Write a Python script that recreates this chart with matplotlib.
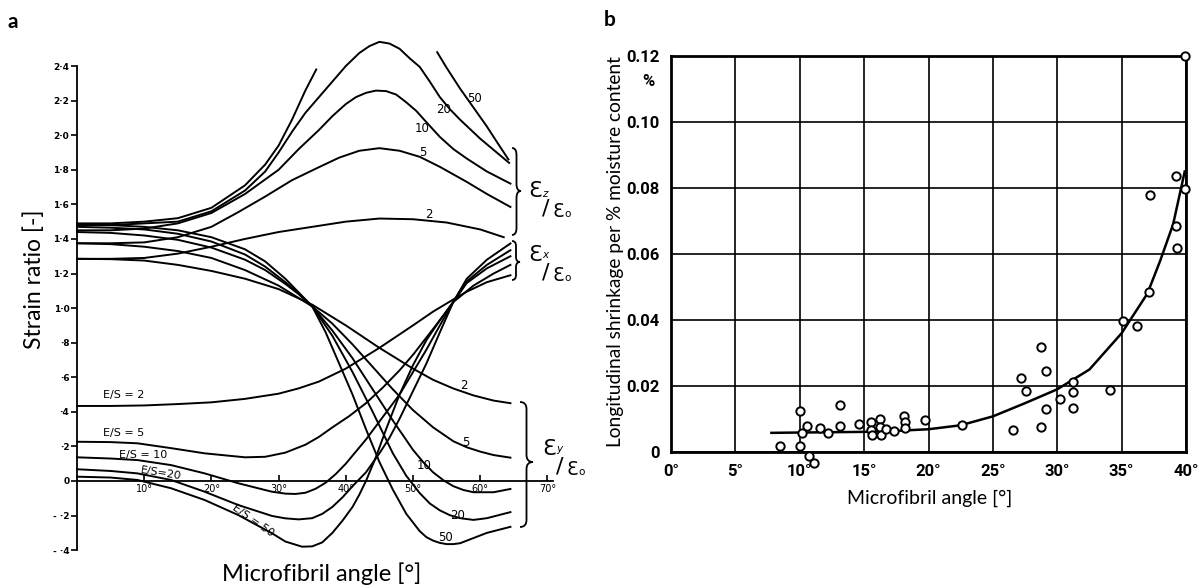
import matplotlib
matplotlib.use('Agg')
import matplotlib.pyplot as plt
from matplotlib.path import Path
from matplotlib.patches import PathPatch
from matplotlib.transforms import Affine2D

# ---- panel a: strain ratio curves ----
es_values = ['2', '5', '10', '20', '50']

# eps_z / eps_0 (upper family)
az_x = {
    '2': [0, 5, 10, 15, 20, 25, 30, 35, 40, 45, 50, 55, 60, 63.5],
    '5': [0, 5, 10, 15, 20, 24, 28, 32, 36, 39, 42, 45, 48, 51, 54, 58, 61, 64.5],
    '10': [0, 5, 10, 15, 20, 25, 30, 33, 36, 38, 40, 41.5, 43, 44.5, 46, 47.5, 49, 50.5,
           52, 54, 56, 58, 61, 64.5],
    '20': [0, 5, 10, 15, 20, 25, 28, 30, 32, 34, 36, 38, 40, 42, 43.5, 45, 46.5, 48, 49.5,
           51, 52.5, 54, 55.5, 57, 60, 64.3],
}
az_y = {
    '2': [1.285, 1.285, 1.29, 1.315, 1.355, 1.40, 1.44, 1.47, 1.50, 1.518, 1.514, 1.495,
          1.455, 1.41],
    '5': [1.375, 1.375, 1.38, 1.41, 1.47, 1.555, 1.645, 1.74, 1.815, 1.87, 1.91, 1.925,
          1.91, 1.875, 1.817, 1.73, 1.66, 1.585],
    '10': [1.45, 1.45, 1.46, 1.49, 1.55, 1.66, 1.80, 1.92, 2.03, 2.11, 2.18, 2.22, 2.245,
           2.258, 2.255, 2.235, 2.19, 2.14, 2.075, 1.99, 1.92, 1.865, 1.79, 1.72],
    '20': [1.48, 1.48, 1.49, 1.50, 1.56, 1.68, 1.79, 1.90, 2.02, 2.13, 2.22, 2.31, 2.40,
           2.475, 2.515, 2.54, 2.53, 2.50, 2.445, 2.395, 2.31, 2.22, 2.15, 2.09, 1.98, 1.84],
}
# E/S = 50 leaves the frame, two separate branches
az50_left_x = [0, 5, 10, 15, 20, 25, 28, 30, 32, 34, 35.6]
az50_left_y = [1.49, 1.49, 1.50, 1.52, 1.58, 1.71, 1.83, 1.94, 2.09, 2.26, 2.38]
az50_right_x = [53.6, 55, 57, 59, 61, 62.5, 64.2]
az50_right_y = [2.48, 2.39, 2.27, 2.16, 2.05, 1.96, 1.86]

# curves starting high and ending in the eps_y group
b_x = {
    '2': [0, 5, 10, 15, 20, 25, 30, 35, 40, 45, 50, 53, 56, 59, 62, 64.5],
    '5': [0, 5, 10, 15, 20, 25, 30, 35, 38, 41, 44, 47, 50, 53, 56, 58, 60, 62, 64.5],
    '10': [0, 5, 10, 15, 20, 25, 28, 31, 33, 35, 38, 41, 44, 47, 50, 51.5, 53, 54.5, 56,
           57.5, 59, 62, 64.5],
    '20': [0, 5, 10, 15, 20, 25, 28, 31, 33, 35, 38, 41, 44, 47, 49, 51, 52.5, 54, 55.5,
           57, 59, 61, 63, 64.5],
    '50': [0, 5, 10, 15, 20, 25, 28, 31, 33, 35, 37, 39, 41, 43, 45, 47, 49, 51, 52, 53,
           54, 55, 56, 57, 59, 61, 64.5],
}
b_y = {
    '2': [1.285, 1.283, 1.275, 1.25, 1.215, 1.17, 1.11, 1.02, 0.90, 0.77, 0.65, 0.585,
          0.535, 0.495, 0.465, 0.45],
    '5': [1.375, 1.37, 1.355, 1.33, 1.29, 1.22, 1.13, 1.01, 0.91, 0.79, 0.66, 0.53, 0.41,
          0.31, 0.23, 0.195, 0.17, 0.15, 0.135],
    '10': [1.44, 1.435, 1.42, 1.395, 1.35, 1.28, 1.22, 1.14, 1.08, 1.01, 0.87, 0.71, 0.53,
           0.35, 0.18, 0.11, 0.05, 0.005, -0.03, -0.052, -0.065, -0.065, -0.046],
    '20': [1.47, 1.465, 1.455, 1.43, 1.385, 1.31, 1.24, 1.15, 1.085, 1.01, 0.84, 0.63,
           0.40, 0.16, 0.03, -0.07, -0.13, -0.17, -0.198, -0.215, -0.225, -0.215, -0.195,
           -0.18],
    '50': [1.485, 1.48, 1.47, 1.45, 1.41, 1.34, 1.27, 1.17, 1.09, 1.01, 0.86, 0.68, 0.50,
           0.30, 0.11, -0.05, -0.19, -0.29, -0.325, -0.345, -0.358, -0.365, -0.365, -0.36,
           -0.33, -0.30, -0.265],
}

# curves starting low (E/S labels) and ending in the eps_x group
c_x = {
    '2': [0, 5, 10, 15, 20, 25, 30, 33, 36, 40, 45, 50, 53, 56, 58, 61, 64.5],
    '5': [0, 5, 9, 14, 19, 25, 28, 31, 34, 36, 38, 40.5, 43, 45.5, 48, 50, 52, 54, 56, 59,
          62, 64.5],
    '10': [0, 5, 9, 14, 19, 24, 29, 31, 32.5, 34, 35.5, 37, 38.5, 40, 43, 45.5, 48, 50,
           52, 54, 56, 58, 61, 64.5],
    '20': [0, 5, 9, 14, 19, 24, 29, 31, 33, 35, 36.5, 38, 39.5, 41, 43, 45, 46.5, 48, 50,
           52, 54, 56, 58, 61, 64.5],
    '50': [0, 5, 9, 14, 19, 24, 29, 31, 33.5, 35, 36.5, 38, 39.5, 41, 42, 43, 44.5, 46,
           48, 50, 52, 54, 56, 58, 61, 64.5],
}
c_y = {
    '2': [0.434, 0.434, 0.437, 0.445, 0.455, 0.475, 0.505, 0.536, 0.575, 0.65, 0.77, 0.90,
          0.98, 1.05, 1.095, 1.15, 1.19],
    '5': [0.227, 0.225, 0.218, 0.19, 0.16, 0.137, 0.14, 0.164, 0.21, 0.255, 0.31, 0.375,
          0.45, 0.54, 0.64, 0.73, 0.83, 0.93, 1.035, 1.13, 1.20, 1.25],
    '10': [0.137, 0.13, 0.121, 0.092, 0.044, -0.013, -0.062, -0.073, -0.075, -0.068,
           -0.045, -0.01, 0.04, 0.10, 0.24, 0.37, 0.50, 0.63, 0.76, 0.90, 1.036, 1.145,
           1.23, 1.30],
    '20': [0.068, 0.058, 0.044, 0.006, -0.062, -0.139, -0.202, -0.216, -0.222, -0.215,
           -0.19, -0.15, -0.095, -0.03, 0.05, 0.16, 0.25, 0.36, 0.52, 0.68, 0.86, 1.036,
           1.155, 1.25, 1.335],
    '50': [0.025, 0.02, 0.006, -0.042, -0.11, -0.197, -0.302, -0.35, -0.38, -0.378,
           -0.355, -0.30, -0.23, -0.15, -0.08, 0.0, 0.14, 0.30, 0.50, 0.67, 0.815, 0.93,
           1.036, 1.17, 1.28, 1.374],
}

a_yticks = [-0.4, -0.2, 0, 0.2, 0.4, 0.6, 0.8, 1.0, 1.2, 1.4, 1.6, 1.8, 2.0, 2.2, 2.4]
a_yticklabels = ['- ·4', '- ·2', '0', '·2', '·4', '·6', '·8', '1·0', '1·2', '1·4',
                 '1·6', '1·8', '2·0', '2·2', '2·4']
a_xticks = [10, 20, 30, 40, 50, 60, 70]
a_xticklabels = ['10°', '20°', '30°', '40°', '50°', '60°', '70°']

# ---- panel b: longitudinal shrinkage vs microfibril angle ----
mfa = [8.45, 10.0, 10.0, 10.15, 10.6, 10.7, 11.1, 11.6, 12.2, 13.1, 13.1, 14.6, 15.5, 15.5,
       15.6, 16.2, 16.2, 16.3, 16.7, 17.3, 18.1, 18.2, 18.2, 19.7, 22.6, 26.6, 27.2, 27.6,
       28.7, 28.7, 29.1, 29.1, 30.2, 31.2, 31.2, 31.2, 34.1, 35.1, 36.2, 37.1, 37.2, 39.2,
       39.2, 39.3, 39.9, 39.9]
shrink = [0.0017, 0.0017, 0.0123, 0.0057, 0.008, -0.0012, -0.0034, 0.0073, 0.0057, 0.0141,
          0.0078, 0.0084, 0.0091, 0.0068, 0.0052, 0.0101, 0.0076, 0.0052, 0.0071, 0.0065,
          0.0108, 0.0091, 0.0073, 0.0098, 0.0083, 0.0068, 0.0224, 0.0186, 0.0317, 0.0076,
          0.0245, 0.0129, 0.0161, 0.0212, 0.0181, 0.0134, 0.0189, 0.0396, 0.0381, 0.0484,
          0.0779, 0.0837, 0.0686, 0.0617, 0.0796, 0.12]
fit_x = [7.8, 10, 12.5, 15, 17.5, 20, 22.5, 25, 27.5, 30, 32.5, 35, 36, 37, 38, 39, 39.9]
fit_y = [0.0058, 0.0059, 0.006, 0.0061, 0.0064, 0.0069, 0.0081, 0.0108, 0.0148, 0.019,
         0.025, 0.036, 0.042, 0.048, 0.058, 0.069, 0.085]
b_xticks = [0, 5, 10, 15, 20, 25, 30, 35, 40]
b_xticklabels = ['0°', '5°', '10°', '15°', '20°', '25°', '30°', '35°', '40°']
b_yticks = [0, 0.02, 0.04, 0.06, 0.08, 0.10, 0.12]
b_yticklabels = ['0', '0.02', '0.04', '0.06', '0.08', '0.10', '0.12']

W, H = 1203, 588
fig = plt.figure(figsize=(W / 100, H / 100), dpi=100)
# pixel coordinates, origin top-left
pix = Affine2D().scale(1 / W, -1 / H).translate(0, 1) + fig.transFigure

LABEL_FONT = ['Lato', 'DejaVu Sans']
SCAN_FONT = ['DejaVu Sans']
TICK_B = ['Roboto', 'DejaVu Sans']


def brace(x, y0, y1, w, ym, r=7):
    xm = x + w / 2
    verts = [(x, y0), (xm, y0), (xm, y0 + r), (xm, ym - r), (xm, ym), (x + w, ym),
             (xm, ym), (xm, ym + r), (xm, y1 - r), (xm, y1), (x, y1)]
    codes = [Path.MOVETO, Path.CURVE3, Path.CURVE3, Path.LINETO, Path.CURVE3, Path.CURVE3,
             Path.CURVE3, Path.CURVE3, Path.LINETO, Path.CURVE3, Path.CURVE3]
    fig.add_artist(PathPatch(Path(verts, codes), fill=False, lw=1.3, ec='black',
                             transform=pix))


def eps_label(x, y, sub, dy_sub=0):
    # "eps_sub / eps_o" written as a slanted fraction, like the scan
    fig.text(x, y, 'Ɛ', transform=pix, fontsize=16, family=SCAN_FONT, va='baseline')
    fig.text(x + 14, y + dy_sub, sub, transform=pix, fontsize=7.5, fontstyle='italic',
             family=SCAN_FONT, va='baseline')
    fig.text(x + 18, y + 11, '/', transform=pix, fontsize=16, family=SCAN_FONT,
             ha='center', va='center')
    fig.text(x + 24, y + 20, 'Ɛ', transform=pix, fontsize=13.5, family=SCAN_FONT,
             va='baseline')
    fig.text(x + 36, y + 20, 'o', transform=pix, fontsize=7.5, family=SCAN_FONT,
             va='baseline')


# ---------------- panel a ----------------
x0, x1, y0, y1 = 20, 600, 30, 570          # axes box in pixels
ax = fig.add_axes([x0 / W, (H - y1) / H, (x1 - x0) / W, (y1 - y0) / H])
ax.set_xlim((x0 - 77) / 6.72, (x1 - 77) / 6.72)
ax.set_ylim((481 - y1) / 172.9, (481 - y0) / 172.9)
ax.patch.set_alpha(0)

lw = 1.4
for k in ['2', '5', '10', '20']:
    ax.plot(az_x[k], az_y[k], color='black', lw=lw)
ax.plot(az50_left_x, az50_left_y, color='black', lw=lw)
ax.plot(az50_right_x, az50_right_y, color='black', lw=lw)
for k in es_values:
    ax.plot(b_x[k], b_y[k], color='black', lw=lw)
    ax.plot(c_x[k], c_y[k], color='black', lw=lw)

for s in ['top', 'right']:
    ax.spines[s].set_visible(False)
ax.spines['left'].set_position(('data', 0))
ax.spines['left'].set_bounds(-0.4, 2.4)
ax.spines['bottom'].set_position(('data', 0))
ax.spines['bottom'].set_bounds(0, 70.8)
for s in ['left', 'bottom']:
    ax.spines[s].set_linewidth(1.3)

ax.set_yticks(a_yticks)
ax.set_yticklabels(a_yticklabels, fontsize=6.5, fontweight='bold', family=SCAN_FONT)
ax.set_xticks(a_xticks)
ax.set_xticklabels(a_xticklabels, fontsize=7, family=SCAN_FONT)
ax.tick_params(axis='y', direction='out', length=4, width=1.2, pad=1.5)
ax.tick_params(axis='x', direction='in', length=4, width=1.2, pad=2)

lab_kw = dict(fontsize=8.5, family=SCAN_FONT, ha='center', va='center')
for txt, xx, yy in [('50', 59.2, 2.21), ('20', 54.5, 2.15), ('10', 51.4, 2.04),
                    ('5', 51.4, 1.90), ('2', 52.4, 1.54),
                    ('2', 57.6, 0.55), ('5', 57.8, 0.22), ('10', 51.6, 0.09),
                    ('20', 56.6, -0.20), ('50', 54.8, -0.325)]:
    ax.text(xx, yy, txt, **lab_kw)

es_kw = dict(fontsize=8, family=SCAN_FONT, va='center')
ax.text(3.9, 0.50, 'E/S = 2', **es_kw)
ax.text(3.9, 0.28, 'E/S = 5', **es_kw)
ax.text(6.3, 0.15, 'E/S = 10', **es_kw)
ax.text(9.4, 0.045, 'E/S=20', rotation=-9, **es_kw)
ax.text(26.2, -0.23, 'E/S = 50', rotation=-35, fontsize=8, family=SCAN_FONT,
        ha='center', va='center')

brace(512, 148, 235, 9, 191)
brace(512, 241, 280, 8, 262, r=5)
brace(520, 402, 527, 13, 462)
eps_label(528, 197, 'z')
eps_label(528, 261, 'x', dy_sub=-3)
eps_label(542, 455, 'y', dy_sub=-3)

fig.text(34, 279, 'Strain ratio [-]', transform=pix, rotation=90, fontsize=16.5,
         family=LABEL_FONT, ha='center', va='center')
fig.text(322, 574, 'Microfibril angle [°]', transform=pix, fontsize=17,
         family=LABEL_FONT, ha='center', va='center')
fig.text(8, 28, 'a', transform=pix, fontsize=15, fontweight='bold', family=LABEL_FONT,
         va='baseline')

# ---------------- panel b ----------------
bx0, bx1, by0, by1 = 671, 1186, 56, 452
axb = fig.add_axes([bx0 / W, (H - by1) / H, (bx1 - bx0) / W, (by1 - by0) / H])
axb.set_xlim(0, 40)
axb.set_ylim(0, 0.12)
axb.set_xticks(b_xticks)
axb.set_xticklabels(b_xticklabels)
axb.set_yticks(b_yticks)
axb.set_yticklabels(b_yticklabels)
for lab in axb.get_xticklabels() + axb.get_yticklabels():
    lab.set_family(TICK_B)
    lab.set_fontsize(12)
    lab.set_fontweight('bold')
axb.tick_params(axis='y', length=0, pad=8)
axb.tick_params(axis='x', length=0, pad=9)
axb.grid(True, color='black', lw=1.2)
axb.set_axisbelow(True)
for s in axb.spines.values():
    s.set_linewidth(2)

axb.plot(fit_x, fit_y, color='black', lw=1.8, zorder=3)
axb.plot(mfa, shrink, 'o', ms=6, mfc='white', mec='black', mew=1.4, clip_on=False,
         zorder=4)

fig.text(648, 82, '%', transform=pix, fontsize=12, fontweight='bold', family=TICK_B,
         ha='center', va='center')
fig.text(615, 252, 'Longitudinal shrinkage per % moisture content', transform=pix,
         rotation=90, fontsize=13.8, family=LABEL_FONT, ha='center', va='center')
fig.text(930, 498, 'Microfibril angle [°]', transform=pix, fontsize=14,
         family=LABEL_FONT, ha='center', va='center')
fig.text(604, 26, 'b', transform=pix, fontsize=15, fontweight='bold', family=LABEL_FONT,
         va='baseline')

fig.savefig('out.png', dpi=100)
